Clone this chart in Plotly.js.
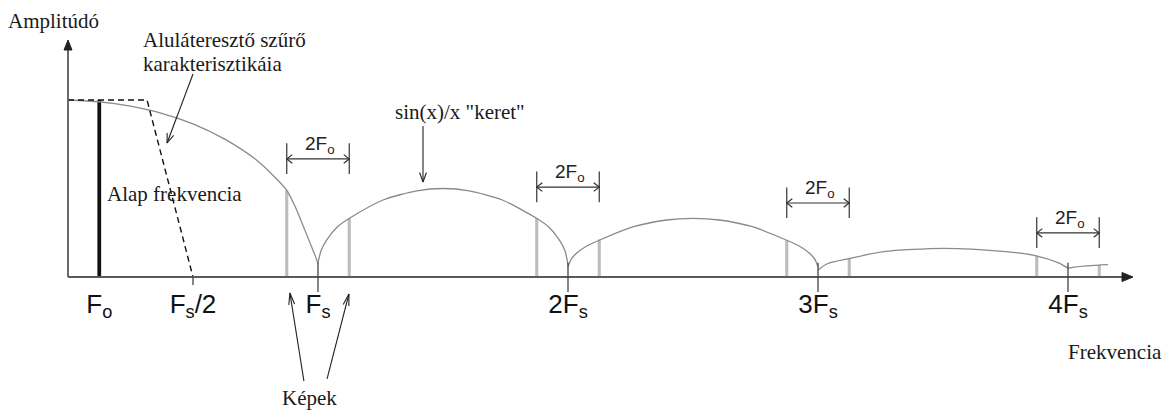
<!DOCTYPE html>
<html>
<head>
<meta charset="utf-8">
<script src="https://cdn.plot.ly/plotly-3.0.1.min.js"></script>
<style>html,body{margin:0;padding:0;background:#fff;}#chart{width:1173px;height:412px;}</style>
</head>
<body>
<div id="chart"></div>
<script>
// Frequencies in units of Fo (Fs = 8 Fo); amplitudes relative to the fundamental.
const tickVals = [1, 4, 8, 16, 24, 32];
const tickText = ['F<sub>o</sub>', 'F<sub>s</sub>/2', 'F<sub>s</sub>', '2F<sub>s</sub>', '3F<sub>s</sub>', '4F<sub>s</sub>'];
const sampleMultiples = [8, 16, 24, 32];

const fundFreq = [1];
const fundAmp = [1.0];

const imageFreq = [7, 9, 15, 17, 23, 25, 31, 33];
const imageAmp = [0.49, 0.333, 0.333, 0.212, 0.209, 0.105, 0.12, 0.068];

const lobe0F = [0, 1, 2, 3, 4, 5, 6, 6.5, 7, 7.25, 7.5, 7.75, 7.9, 8];
const lobe0A = [1.0, 0.99, 0.965, 0.925, 0.865, 0.78, 0.665, 0.585, 0.49, 0.405, 0.3, 0.19, 0.125, 0.075];
const lobe1F = [8, 8.1, 8.28, 8.6, 9.02, 10.08, 11.16, 12, 12.84, 13.9, 14.98, 15.4, 15.72, 15.9, 16];
const lobe1A = [0.08, 0.15, 0.21, 0.28, 0.333, 0.435, 0.487, 0.5, 0.487, 0.435, 0.333, 0.28, 0.21, 0.15, 0.07];
const lobe2F = [16, 16.1, 16.28, 16.6, 17.02, 18.1, 19.16, 20, 20.84, 21.9, 22.98, 23.4, 23.72, 23.9, 24];
const lobe2A = [0.058, 0.1, 0.135, 0.175, 0.209, 0.284, 0.322, 0.331, 0.322, 0.284, 0.209, 0.175, 0.135, 0.1, 0.058];
const lobe3F = [24, 24.3, 25.02, 26.1, 28, 29.9, 30.98, 31.7, 32];
const lobe3A = [0.04, 0.075, 0.105, 0.143, 0.162, 0.145, 0.12, 0.08, 0.05];
const lobe4F = [32, 32.2, 32.6, 33.06, 33.28];
const lobe4A = [0.05, 0.056, 0.063, 0.068, 0.07];

const filterF = [0, 2.53, 4];
const filterA = [1, 1, 0];

const bracketLevels = [0.667, 0.508, 0.418, 0.249];
const bracketLabel = '2F<sub>o</sub>';

// pointer arrows: [tipF, tipA, tailF, tailA]
const pointerArrows = [
  [3.17, 0.757, 4.0, 1.147],
  [11.36, 0.537, 11.36, 0.853],
  [7.1, -0.09, 7.55, -0.588],
  [8.99, -0.096, 8.29, -0.576]
];

const axisTipY = 1.339;
const axisTipX = 34.08;

const serif = 'Liberation Serif, Times New Roman, serif';
const sans = 'Liberation Sans, Arial, sans-serif';

const xRange = [-2.176, 35.36];
const yRange = [-0.7627, 1.565];
const W = 1173, H = 412;
const kx = W / (xRange[1] - xRange[0]);
const ky = H / (yRange[1] - yRange[0]);

// V-shaped arrowhead helper (pixel-sized head converted to data units)
function vHead(tipF, tipA, tailF, tailA, len, angDeg, xs, ys) {
  let dx = (tailF - tipF) * kx, dy = (tailA - tipA) * ky;
  const n = Math.hypot(dx, dy); dx /= n; dy /= n;
  const a = angDeg * Math.PI / 180;
  [a, -a].forEach((t, i) => {
    const rx = dx * Math.cos(t) - dy * Math.sin(t);
    const ry = dx * Math.sin(t) + dy * Math.cos(t);
    xs.push(tipF + rx * len / kx); ys.push(tipA + ry * len / ky);
    xs.push(tipF); ys.push(tipA);
  });
  xs.push(null); ys.push(null);
}
function triHead(tipF, tipA, tailF, tailA, len, half) {
  let dx = (tailF - tipF) * kx, dy = (tailA - tipA) * ky;
  const n = Math.hypot(dx, dy); dx /= n; dy /= n;
  const bx = dx * len, by = dy * len;
  const px = -dy * half, py = dx * half;
  return {x:[tipF, tipF + (bx + px) / kx, tipF + (bx - px) / kx, tipF],
          y:[tipA, tipA + (by + py) / ky, tipA + (by - py) / ky, tipA]};
}

const traces = [];
// image (alias) lines
traces.push({type:'bar', x:imageFreq, y:imageAmp, width:0.1, marker:{color:'#bdbdbd', line:{width:0}}, hoverinfo:'skip'});
// fundamental
traces.push({type:'bar', x:fundFreq, y:fundAmp, width:0.12, marker:{color:'#111', line:{width:0}}, hoverinfo:'skip'});
// sin(x)/x envelope lobes
[[lobe0F,lobe0A],[lobe1F,lobe1A],[lobe2F,lobe2A],[lobe3F,lobe3A],[lobe4F,lobe4A]].forEach(([f,a]) => {
  traces.push({type:'scatter', mode:'lines', x:f, y:a, line:{color:'#8a8a8a', width:1.3, shape:'spline', smoothing:0.7}, hoverinfo:'skip'});
});
// low-pass filter characteristic
traces.push({type:'scatter', mode:'lines', x:filterF, y:filterA, line:{color:'#111', width:1.4, dash:'6px,4px'}, hoverinfo:'skip'});

// axes with arrowheads
traces.push({type:'scatter', mode:'lines', x:[0, 0, null, 0, axisTipX - 8 / kx], y:[axisTipY - 8 / ky, 0, null, 0, 0],
             line:{color:'#5a5a5a', width:1.8}, hoverinfo:'skip'});
[triHead(0, axisTipY, 0, 0, 10, 4), triHead(axisTipX, 0, 0, 0, 11, 4.5)].forEach(t => {
  traces.push({type:'scatter', mode:'lines', x:t.x, y:t.y, fill:'toself', fillcolor:'#222', line:{color:'#222', width:1}, hoverinfo:'skip'});
});

// tick marks at multiples of Fs and at Fs/2
const tx = [], ty = [];
sampleMultiples.forEach(m => { tx.push(m, m, null); ty.push(0.08, -0.085, null); });
tx.push(4, 4, null); ty.push(0.0, -0.045, null);
traces.push({type:'scatter', mode:'lines', x:tx, y:ty, line:{color:'#444', width:1.3}, hoverinfo:'skip'});

// brackets (end lines, double arrows)
const bx = [], by = [];
sampleMultiples.forEach((m, i) => {
  const lv = bracketLevels[i];
  const lo = m - fundFreq[0], hi = m + fundFreq[0];
  [lo, hi].forEach(e => { bx.push(e, e, null); by.push(lv + 0.088, lv - 0.085, null); });
  bx.push(lo, hi, null); by.push(lv, lv, null);
  vHead(lo, lv, hi, lv, 7, 38, bx, by);
  vHead(hi, lv, lo, lv, 7, 38, bx, by);
});
traces.push({type:'scatter', mode:'lines', x:bx, y:by, line:{color:'#333', width:1.2}, hoverinfo:'skip'});

// pointer arrows
const px = [], py = [];
pointerArrows.forEach(([f0, a0, f1, a1], i) => {
  px.push(f1, f0, null); py.push(a1, a0, null);
  vHead(f0, a0, f1, a1, i >= 2 ? 12 : 10, i >= 2 ? 14 : 20, px, py);
});
traces.push({type:'scatter', mode:'lines', x:px, y:py, line:{color:'#222', width:1.1}, hoverinfo:'skip'});

const ann = [];
sampleMultiples.forEach((m, i) => {
  ann.push({x:m + 0.05, y:bracketLevels[i], xref:'x', yref:'y', yanchor:'bottom', yshift:1, text:bracketLabel, showarrow:false,
            borderpad:0, font:{family:sans, size:19, color:'#222'}});
});
const txt = (text, x, y, xanchor) => ({text, x, y, xref:'x', yref:'y', xanchor:xanchor || 'center', yanchor:'middle', showarrow:false,
                                       borderpad:0, font:{family:serif, size:21, color:'#1a1a1a'}});
ann.push(txt('Amplitúdó', -0.46, 1.446));
ann.push(txt('Aluláteresztő szűrő', 2.37, 1.338, 'left'));
ann.push(txt('karakterisztikáia', 2.37, 1.203, 'left'));
ann.push(txt('Alap frekvencia', 1.22, 0.469, 'left'));
ann.push(txt('sin(x)/x "keret"', 12.54, 0.932));
ann.push(txt('Képek', 7.74, -0.685));
ann.push(txt('Frekvencia', 33.49, -0.424));

const layout = {
  width:W, height:H,
  margin:{l:0, r:0, t:0, b:0, pad:0},
  paper_bgcolor:'#fff', plot_bgcolor:'#fff',
  showlegend:false, barmode:'overlay', hovermode:false,
  xaxis:{range:xRange, showgrid:false, zeroline:false, showline:false, ticks:'',
         tickvals:tickVals, ticktext:tickText, tickfont:{family:sans, size:26, color:'#111'},
         anchor:'free', position:0.3277, ticklabelstandoff:9, fixedrange:true},
  yaxis:{range:yRange, visible:false, fixedrange:true},
  annotations:ann
};
Plotly.newPlot('chart', traces, layout, {staticPlot:true, displayModeBar:false});
</script>
</body>
</html>
